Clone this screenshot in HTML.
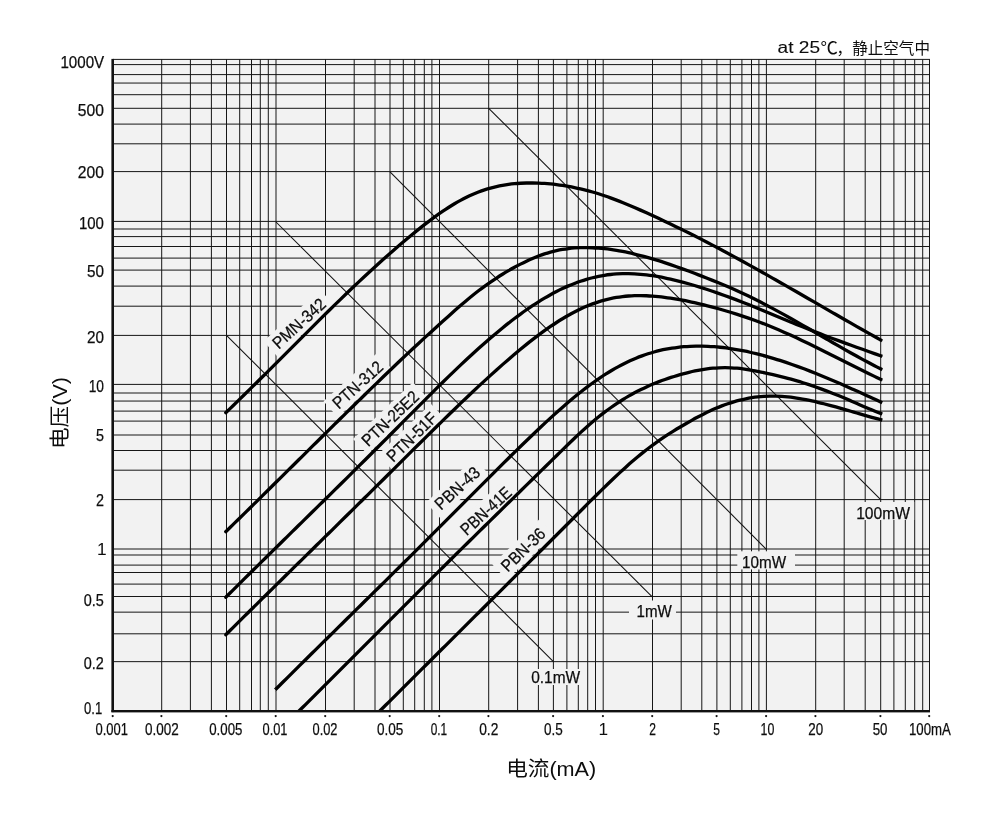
<!DOCTYPE html>
<html lang="zh-CN"><head><meta charset="utf-8"><title>电压-电流特性</title>
<style>html,body{margin:0;padding:0;background:#fff;}body{width:1000px;height:818px;overflow:hidden;}svg{display:block;}text{font-family:"Liberation Sans", "Noto Sans CJK SC", sans-serif;fill:#0d0d0d;stroke:#0d0d0d;stroke-width:0.25px;}</style></head><body>
<svg width="1000" height="818" viewBox="0 0 1000 818">
<rect x="0" y="0" width="1000" height="818" fill="#fff"/>
<rect x="113.0" y="59.4" width="816.5" height="651.6" fill="#f2f2f2"/>
<g stroke="#161616" stroke-width="1" fill="none">
<line x1="161.70" y1="59.40" x2="161.70" y2="711.00"/>
<line x1="190.40" y1="59.40" x2="190.40" y2="711.00"/>
<line x1="211.40" y1="59.40" x2="211.40" y2="711.00"/>
<line x1="226.50" y1="59.40" x2="226.50" y2="711.00"/>
<line x1="239.70" y1="59.40" x2="239.70" y2="711.00"/>
<line x1="251.50" y1="59.40" x2="251.50" y2="711.00"/>
<line x1="260.30" y1="59.40" x2="260.30" y2="711.00"/>
<line x1="268.30" y1="59.40" x2="268.30" y2="711.00"/>
<line x1="276.00" y1="59.40" x2="276.00" y2="711.00"/>
<line x1="325.50" y1="59.40" x2="325.50" y2="711.00"/>
<line x1="354.20" y1="59.40" x2="354.20" y2="711.00"/>
<line x1="375.00" y1="59.40" x2="375.00" y2="711.00"/>
<line x1="390.00" y1="59.40" x2="390.00" y2="711.00"/>
<line x1="403.30" y1="59.40" x2="403.30" y2="711.00"/>
<line x1="414.70" y1="59.40" x2="414.70" y2="711.00"/>
<line x1="424.30" y1="59.40" x2="424.30" y2="711.00"/>
<line x1="431.90" y1="59.40" x2="431.90" y2="711.00"/>
<line x1="439.50" y1="59.40" x2="439.50" y2="711.00"/>
<line x1="488.70" y1="59.40" x2="488.70" y2="711.00"/>
<line x1="517.60" y1="59.40" x2="517.60" y2="711.00"/>
<line x1="538.40" y1="59.40" x2="538.40" y2="711.00"/>
<line x1="553.40" y1="59.40" x2="553.40" y2="711.00"/>
<line x1="566.90" y1="59.40" x2="566.90" y2="711.00"/>
<line x1="578.30" y1="59.40" x2="578.30" y2="711.00"/>
<line x1="587.70" y1="59.40" x2="587.70" y2="711.00"/>
<line x1="595.50" y1="59.40" x2="595.50" y2="711.00"/>
<line x1="603.20" y1="59.40" x2="603.20" y2="711.00"/>
<line x1="652.50" y1="59.40" x2="652.50" y2="711.00"/>
<line x1="681.20" y1="59.40" x2="681.20" y2="711.00"/>
<line x1="701.80" y1="59.40" x2="701.80" y2="711.00"/>
<line x1="716.90" y1="59.40" x2="716.90" y2="711.00"/>
<line x1="730.30" y1="59.40" x2="730.30" y2="711.00"/>
<line x1="741.90" y1="59.40" x2="741.90" y2="711.00"/>
<line x1="751.50" y1="59.40" x2="751.50" y2="711.00"/>
<line x1="758.90" y1="59.40" x2="758.90" y2="711.00"/>
<line x1="766.40" y1="59.40" x2="766.40" y2="711.00"/>
<line x1="815.70" y1="59.40" x2="815.70" y2="711.00"/>
<line x1="844.20" y1="59.40" x2="844.20" y2="711.00"/>
<line x1="865.20" y1="59.40" x2="865.20" y2="711.00"/>
<line x1="880.70" y1="59.40" x2="880.70" y2="711.00"/>
<line x1="893.90" y1="59.40" x2="893.90" y2="711.00"/>
<line x1="905.30" y1="59.40" x2="905.30" y2="711.00"/>
<line x1="914.70" y1="59.40" x2="914.70" y2="711.00"/>
<line x1="922.70" y1="59.40" x2="922.70" y2="711.00"/>
<line x1="929.50" y1="59.40" x2="929.50" y2="711.00"/>
<line x1="113.00" y1="59.40" x2="930.00" y2="59.40"/>
<line x1="113.00" y1="64.60" x2="930.00" y2="64.60"/>
<line x1="113.00" y1="74.60" x2="930.00" y2="74.60"/>
<line x1="113.00" y1="83.05" x2="930.00" y2="83.05"/>
<line x1="113.00" y1="94.70" x2="930.00" y2="94.70"/>
<line x1="113.00" y1="108.30" x2="930.00" y2="108.30"/>
<line x1="113.00" y1="124.10" x2="930.00" y2="124.10"/>
<line x1="113.00" y1="143.80" x2="930.00" y2="143.80"/>
<line x1="113.00" y1="171.60" x2="930.00" y2="171.60"/>
<line x1="113.00" y1="221.40" x2="930.00" y2="221.40"/>
<line x1="113.00" y1="229.00" x2="930.00" y2="229.00"/>
<line x1="113.00" y1="236.60" x2="930.00" y2="236.60"/>
<line x1="113.00" y1="246.50" x2="930.00" y2="246.50"/>
<line x1="113.00" y1="258.10" x2="930.00" y2="258.10"/>
<line x1="113.00" y1="270.10" x2="930.00" y2="270.10"/>
<line x1="113.00" y1="286.10" x2="930.00" y2="286.10"/>
<line x1="113.00" y1="306.20" x2="930.00" y2="306.20"/>
<line x1="113.00" y1="335.40" x2="930.00" y2="335.40"/>
<line x1="113.00" y1="384.40" x2="930.00" y2="384.40"/>
<line x1="113.00" y1="393.00" x2="930.00" y2="393.00"/>
<line x1="113.00" y1="401.05" x2="930.00" y2="401.05"/>
<line x1="113.00" y1="411.10" x2="930.00" y2="411.10"/>
<line x1="113.00" y1="421.10" x2="930.00" y2="421.10"/>
<line x1="113.00" y1="435.00" x2="930.00" y2="435.00"/>
<line x1="113.00" y1="450.50" x2="930.00" y2="450.50"/>
<line x1="113.00" y1="470.20" x2="930.00" y2="470.20"/>
<line x1="113.00" y1="499.60" x2="930.00" y2="499.60"/>
<line x1="113.00" y1="549.00" x2="930.00" y2="549.00"/>
<line x1="113.00" y1="555.00" x2="930.00" y2="555.00"/>
<line x1="113.00" y1="565.10" x2="930.00" y2="565.10"/>
<line x1="113.00" y1="572.50" x2="930.00" y2="572.50"/>
<line x1="113.00" y1="584.10" x2="930.00" y2="584.10"/>
<line x1="113.00" y1="596.50" x2="930.00" y2="596.50"/>
<line x1="113.00" y1="612.15" x2="930.00" y2="612.15"/>
<line x1="113.00" y1="633.80" x2="930.00" y2="633.80"/>
<line x1="113.00" y1="661.65" x2="930.00" y2="661.65"/>
</g>
<g stroke="#111" stroke-width="1.05" fill="none">
<line x1="226.50" y1="335.40" x2="553.40" y2="661.65"/>
<line x1="276.00" y1="222.00" x2="652.50" y2="597.10"/>
<line x1="390.00" y1="171.90" x2="766.40" y2="549.30"/>
<line x1="488.70" y1="108.30" x2="880.70" y2="499.60"/>
</g>
<rect x="524.0" y="669.0" width="62.0" height="16.0" fill="#f2f2f2"/>
<rect x="629.0" y="600.5" width="47.0" height="19.0" fill="#f2f2f2"/>
<rect x="737.3" y="551.3" width="57.7" height="18.1" fill="#f2f2f2"/>
<rect x="845.6" y="502.0" width="68.6" height="18.0" fill="#f2f2f2"/>
<rect x="260.6" y="312.8" width="76.5" height="21.0" fill="#f2f2f2" transform="rotate(-42.3 298.9 323.3)"/>
<rect x="321.2" y="374.3" width="72.5" height="21.0" fill="#f2f2f2" transform="rotate(-42.0 357.5 384.8)"/>
<rect x="348.9" y="407.8" width="82.5" height="21.0" fill="#f2f2f2" transform="rotate(-43.5 390.2 418.3)"/>
<rect x="374.9" y="426.4" width="73.5" height="21.0" fill="#f2f2f2" transform="rotate(-44.0 411.6 436.9)"/>
<rect x="424.4" y="477.5" width="65.5" height="21.0" fill="#f2f2f2" transform="rotate(-42.5 457.2 488.0)"/>
<rect x="449.1" y="500.3" width="73.5" height="21.0" fill="#f2f2f2" transform="rotate(-42.5 485.9 510.8)"/>
<rect x="490.5" y="539.1" width="65.0" height="21.0" fill="#f2f2f2" transform="rotate(-44.0 523.0 549.6)"/>
<clipPath id="pc"><rect x="113" y="59" width="817" height="652.5"/></clipPath>
<g stroke="#000" stroke-width="3.3" fill="none" stroke-linecap="butt" stroke-linejoin="round" clip-path="url(#pc)">
<path d="M225.78 412.68 C225.90 412.57 225.38 413.07 226.50 411.99 C227.62 410.91 230.50 408.15 232.50 406.22 C234.50 404.29 236.50 402.36 238.50 400.41 C240.50 398.47 242.50 396.51 244.50 394.55 C246.50 392.59 248.50 390.63 250.50 388.66 C252.50 386.69 254.50 384.71 256.50 382.73 C258.50 380.75 260.50 378.77 262.50 376.78 C264.50 374.79 266.50 372.80 268.50 370.81 C270.50 368.82 272.50 366.82 274.50 364.82 C276.50 362.82 278.50 360.82 280.50 358.82 C282.50 356.82 284.50 354.82 286.50 352.82 C288.50 350.82 290.50 348.81 292.50 346.81 C294.50 344.81 296.50 342.81 298.50 340.81 C300.50 338.81 302.50 336.81 304.50 334.82 C306.50 332.82 308.50 330.83 310.50 328.84 C312.50 326.85 314.50 324.86 316.50 322.88 C318.50 320.90 320.50 318.92 322.50 316.94 C324.50 314.96 326.50 312.99 328.50 311.03 C330.50 309.07 332.50 307.11 334.50 305.16 C336.50 303.21 338.50 301.27 340.50 299.33 C342.50 297.39 344.50 295.46 346.50 293.54 C348.50 291.62 350.50 289.70 352.50 287.80 C354.50 285.90 356.50 284.00 358.50 282.12 C360.50 280.24 362.50 278.36 364.50 276.49 C366.50 274.62 368.50 272.77 370.50 270.93 C372.50 269.09 374.50 267.27 376.50 265.45 C378.50 263.63 380.50 261.82 382.50 260.03 C384.50 258.24 386.50 256.46 388.50 254.70 C390.50 252.94 392.50 251.19 394.50 249.45 C396.50 247.71 398.50 246.00 400.50 244.29 C402.50 242.58 404.50 240.89 406.50 239.22 C408.50 237.55 410.50 235.90 412.50 234.26 C414.50 232.62 416.50 231.00 418.50 229.40 C420.50 227.80 422.50 226.22 424.50 224.67 C426.50 223.12 428.50 221.58 430.50 220.08 C432.50 218.58 434.50 217.10 436.50 215.67 C438.50 214.23 440.50 212.83 442.50 211.47 C444.50 210.11 446.50 208.78 448.50 207.50 C450.50 206.22 452.50 204.97 454.50 203.78 C456.50 202.59 458.50 201.43 460.50 200.34 C462.50 199.25 464.50 198.21 466.50 197.22 C468.50 196.23 470.50 195.29 472.50 194.42 C474.50 193.55 476.50 192.74 478.50 191.98 C480.50 191.22 482.50 190.51 484.50 189.86 C486.50 189.21 488.50 188.61 490.50 188.06 C492.50 187.51 494.50 187.01 496.50 186.56 C498.50 186.11 500.50 185.71 502.50 185.35 C504.50 184.99 506.50 184.67 508.50 184.40 C510.50 184.13 512.50 183.90 514.50 183.71 C516.50 183.52 518.50 183.38 520.50 183.26 C522.50 183.14 524.50 183.06 526.50 183.02 C528.50 182.98 530.50 182.97 532.50 182.99 C534.50 183.01 536.50 183.05 538.50 183.13 C540.50 183.21 542.50 183.31 544.50 183.45 C546.50 183.58 548.50 183.75 550.50 183.94 C552.50 184.13 554.50 184.35 556.50 184.59 C558.50 184.83 560.50 185.10 562.50 185.40 C564.50 185.70 566.50 186.03 568.50 186.39 C570.50 186.74 572.50 187.12 574.50 187.53 C576.50 187.94 578.50 188.38 580.50 188.85 C582.50 189.32 584.50 189.81 586.50 190.33 C588.50 190.85 590.50 191.40 592.50 191.97 C594.50 192.54 596.50 193.15 598.50 193.78 C600.50 194.41 602.50 195.07 604.50 195.75 C606.50 196.43 608.50 197.13 610.50 197.86 C612.50 198.59 614.50 199.34 616.50 200.11 C618.50 200.88 620.50 201.66 622.50 202.47 C624.50 203.28 626.50 204.10 628.50 204.94 C630.50 205.78 632.50 206.62 634.50 207.49 C636.50 208.36 638.50 209.24 640.50 210.13 C642.50 211.02 644.50 211.91 646.50 212.82 C648.50 213.73 650.50 214.65 652.50 215.57 C654.50 216.49 656.50 217.42 658.50 218.35 C660.50 219.28 662.50 220.22 664.50 221.17 C666.50 222.12 668.50 223.07 670.50 224.03 C672.50 224.99 674.50 225.96 676.50 226.93 C678.50 227.90 680.50 228.88 682.50 229.86 C684.50 230.84 686.50 231.83 688.50 232.83 C690.50 233.83 692.50 234.83 694.50 235.84 C696.50 236.85 698.50 237.87 700.50 238.89 C702.50 239.91 704.50 240.94 706.50 241.98 C708.50 243.02 710.50 244.06 712.50 245.11 C714.50 246.16 716.50 247.22 718.50 248.28 C720.50 249.34 722.50 250.41 724.50 251.48 C726.50 252.55 728.50 253.63 730.50 254.71 C732.50 255.79 734.50 256.89 736.50 257.98 C738.50 259.07 740.50 260.17 742.50 261.27 C744.50 262.37 746.50 263.47 748.50 264.58 C750.50 265.69 752.50 266.81 754.50 267.93 C756.50 269.05 758.50 270.17 760.50 271.29 C762.50 272.41 764.50 273.54 766.50 274.67 C768.50 275.80 770.50 276.93 772.50 278.07 C774.50 279.21 776.50 280.35 778.50 281.49 C780.50 282.63 782.50 283.78 784.50 284.92 C786.50 286.06 788.50 287.20 790.50 288.35 C792.50 289.50 794.50 290.65 796.50 291.80 C798.50 292.95 800.50 294.11 802.50 295.26 C804.50 296.41 806.50 297.57 808.50 298.72 C810.50 299.88 812.50 301.04 814.50 302.19 C816.50 303.34 818.50 304.50 820.50 305.65 C822.50 306.80 824.50 307.96 826.50 309.11 C828.50 310.26 830.50 311.42 832.50 312.57 C834.50 313.72 836.50 314.88 838.50 316.03 C840.50 317.18 842.50 318.32 844.50 319.47 C846.50 320.62 848.50 321.77 850.50 322.91 C852.50 324.05 854.50 325.19 856.50 326.33 C858.50 327.47 860.50 328.61 862.50 329.74 C864.50 330.88 866.50 332.01 868.50 333.14 C870.50 334.27 872.50 335.40 874.50 336.52 C876.50 337.64 879.47 339.29 880.50 339.87 C881.53 340.45 880.42 339.83 880.70 339.98 C880.98 340.13 881.94 340.66 882.19 340.80"/>
<path d="M225.78 531.69 C225.90 531.57 225.38 532.08 226.50 530.99 C227.62 529.90 230.50 527.09 232.50 525.13 C234.50 523.17 236.50 521.22 238.50 519.26 C240.50 517.30 242.50 515.34 244.50 513.37 C246.50 511.41 248.50 509.44 250.50 507.47 C252.50 505.50 254.50 503.53 256.50 501.56 C258.50 499.59 260.50 497.62 262.50 495.65 C264.50 493.68 266.50 491.70 268.50 489.72 C270.50 487.74 272.50 485.77 274.50 483.79 C276.50 481.81 278.50 479.83 280.50 477.85 C282.50 475.87 284.50 473.89 286.50 471.91 C288.50 469.93 290.50 467.95 292.50 465.97 C294.50 463.99 296.50 462.01 298.50 460.03 C300.50 458.05 302.50 456.07 304.50 454.09 C306.50 452.11 308.50 450.13 310.50 448.15 C312.50 446.17 314.50 444.20 316.50 442.22 C318.50 440.24 320.50 438.27 322.50 436.29 C324.50 434.31 326.50 432.34 328.50 430.36 C330.50 428.38 332.50 426.41 334.50 424.44 C336.50 422.47 338.50 420.51 340.50 418.54 C342.50 416.57 344.50 414.61 346.50 412.64 C348.50 410.67 350.50 408.71 352.50 406.75 C354.50 404.79 356.50 402.83 358.50 400.88 C360.50 398.93 362.50 396.97 364.50 395.02 C366.50 393.07 368.50 391.12 370.50 389.18 C372.50 387.24 374.50 385.30 376.50 383.36 C378.50 381.42 380.50 379.48 382.50 377.55 C384.50 375.62 386.50 373.69 388.50 371.77 C390.50 369.85 392.50 367.93 394.50 366.02 C396.50 364.11 398.50 362.21 400.50 360.31 C402.50 358.41 404.50 356.52 406.50 354.64 C408.50 352.76 410.50 350.88 412.50 349.01 C414.50 347.14 416.50 345.28 418.50 343.43 C420.50 341.58 422.50 339.73 424.50 337.90 C426.50 336.07 428.50 334.25 430.50 332.43 C432.50 330.61 434.50 328.79 436.50 326.98 C438.50 325.17 440.50 323.36 442.50 321.56 C444.50 319.76 446.50 317.95 448.50 316.16 C450.50 314.37 452.50 312.58 454.50 310.82 C456.50 309.06 458.50 307.30 460.50 305.58 C462.50 303.86 464.50 302.15 466.50 300.48 C468.50 298.81 470.50 297.15 472.50 295.54 C474.50 293.93 476.50 292.35 478.50 290.81 C480.50 289.27 482.50 287.76 484.50 286.30 C486.50 284.84 488.50 283.42 490.50 282.04 C492.50 280.66 494.50 279.32 496.50 278.02 C498.50 276.72 500.50 275.45 502.50 274.22 C504.50 272.99 506.50 271.80 508.50 270.64 C510.50 269.48 512.50 268.36 514.50 267.28 C516.50 266.19 518.50 265.14 520.50 264.13 C522.50 263.12 524.50 262.14 526.50 261.20 C528.50 260.26 530.50 259.36 532.50 258.50 C534.50 257.64 536.50 256.83 538.50 256.07 C540.50 255.31 542.50 254.58 544.50 253.92 C546.50 253.25 548.50 252.64 550.50 252.08 C552.50 251.52 554.50 251.02 556.50 250.57 C558.50 250.12 560.50 249.73 562.50 249.39 C564.50 249.05 566.50 248.76 568.50 248.52 C570.50 248.28 572.50 248.09 574.50 247.94 C576.50 247.79 578.50 247.70 580.50 247.64 C582.50 247.58 584.50 247.57 586.50 247.59 C588.50 247.61 590.50 247.67 592.50 247.76 C594.50 247.85 596.50 247.99 598.50 248.15 C600.50 248.31 602.50 248.51 604.50 248.73 C606.50 248.95 608.50 249.20 610.50 249.48 C612.50 249.76 614.50 250.07 616.50 250.40 C618.50 250.73 620.50 251.10 622.50 251.48 C624.50 251.86 626.50 252.27 628.50 252.70 C630.50 253.13 632.50 253.59 634.50 254.06 C636.50 254.53 638.50 255.03 640.50 255.54 C642.50 256.06 644.50 256.59 646.50 257.15 C648.50 257.71 650.50 258.29 652.50 258.88 C654.50 259.47 656.50 260.08 658.50 260.70 C660.50 261.32 662.50 261.97 664.50 262.62 C666.50 263.27 668.50 263.95 670.50 264.63 C672.50 265.31 674.50 266.00 676.50 266.71 C678.50 267.41 680.50 268.13 682.50 268.86 C684.50 269.59 686.50 270.32 688.50 271.07 C690.50 271.81 692.50 272.57 694.50 273.33 C696.50 274.09 698.50 274.87 700.50 275.64 C702.50 276.41 704.50 277.19 706.50 277.98 C708.50 278.77 710.50 279.56 712.50 280.36 C714.50 281.16 716.50 281.97 718.50 282.79 C720.50 283.61 722.50 284.44 724.50 285.28 C726.50 286.12 728.50 286.98 730.50 287.85 C732.50 288.72 734.50 289.60 736.50 290.50 C738.50 291.40 740.50 292.32 742.50 293.25 C744.50 294.18 746.50 295.13 748.50 296.10 C750.50 297.07 752.50 298.05 754.50 299.04 C756.50 300.03 758.50 301.04 760.50 302.06 C762.50 303.08 764.50 304.12 766.50 305.17 C768.50 306.22 770.50 307.28 772.50 308.35 C774.50 309.42 776.50 310.50 778.50 311.59 C780.50 312.68 782.50 313.78 784.50 314.89 C786.50 316.00 788.50 317.12 790.50 318.24 C792.50 319.37 794.50 320.50 796.50 321.64 C798.50 322.78 800.50 323.92 802.50 325.07 C804.50 326.22 806.50 327.37 808.50 328.53 C810.50 329.69 812.50 330.85 814.50 332.01 C816.50 333.17 818.50 334.33 820.50 335.49 C822.50 336.65 824.50 337.81 826.50 338.97 C828.50 340.13 830.50 341.30 832.50 342.45 C834.50 343.60 836.50 344.75 838.50 345.90 C840.50 347.05 842.50 348.19 844.50 349.33 C846.50 350.47 848.50 351.60 850.50 352.72 C852.50 353.84 854.50 354.95 856.50 356.06 C858.50 357.17 860.50 358.27 862.50 359.35 C864.50 360.44 866.50 361.51 868.50 362.57 C870.50 363.63 872.50 364.69 874.50 365.73 C876.50 366.77 879.47 368.27 880.50 368.80 C881.53 369.33 880.41 368.76 880.70 368.90 C880.99 369.04 881.97 369.53 882.22 369.66"/>
<path d="M225.79 597.20 C225.91 597.09 225.38 597.61 226.50 596.50 C227.62 595.39 230.50 592.53 232.50 590.55 C234.50 588.57 236.50 586.58 238.50 584.60 C240.50 582.62 242.50 580.64 244.50 578.66 C246.50 576.68 248.50 574.71 250.50 572.74 C252.50 570.77 254.50 568.79 256.50 566.82 C258.50 564.85 260.50 562.88 262.50 560.91 C264.50 558.94 266.50 556.97 268.50 555.00 C270.50 553.03 272.50 551.07 274.50 549.10 C276.50 547.13 278.50 545.17 280.50 543.21 C282.50 541.25 284.50 539.28 286.50 537.32 C288.50 535.36 290.50 533.39 292.50 531.43 C294.50 529.47 296.50 527.50 298.50 525.54 C300.50 523.58 302.50 521.61 304.50 519.65 C306.50 517.69 308.50 515.73 310.50 513.76 C312.50 511.80 314.50 509.83 316.50 507.86 C318.50 505.89 320.50 503.93 322.50 501.96 C324.50 499.99 326.50 498.03 328.50 496.06 C330.50 494.09 332.50 492.12 334.50 490.15 C336.50 488.18 338.50 486.21 340.50 484.24 C342.50 482.27 344.50 480.29 346.50 478.31 C348.50 476.33 350.50 474.36 352.50 472.38 C354.50 470.40 356.50 468.42 358.50 466.44 C360.50 464.46 362.50 462.47 364.50 460.48 C366.50 458.49 368.50 456.50 370.50 454.51 C372.50 452.52 374.50 450.52 376.50 448.53 C378.50 446.53 380.50 444.54 382.50 442.54 C384.50 440.54 386.50 438.53 388.50 436.52 C390.50 434.51 392.50 432.50 394.50 430.49 C396.50 428.48 398.50 426.46 400.50 424.45 C402.50 422.44 404.50 420.41 406.50 418.40 C408.50 416.38 410.50 414.37 412.50 412.36 C414.50 410.35 416.50 408.34 418.50 406.33 C420.50 404.32 422.50 402.32 424.50 400.32 C426.50 398.32 428.50 396.33 430.50 394.34 C432.50 392.35 434.50 390.36 436.50 388.39 C438.50 386.42 440.50 384.46 442.50 382.50 C444.50 380.54 446.50 378.59 448.50 376.65 C450.50 374.71 452.50 372.79 454.50 370.88 C456.50 368.97 458.50 367.06 460.50 365.17 C462.50 363.28 464.50 361.40 466.50 359.54 C468.50 357.68 470.50 355.83 472.50 354.00 C474.50 352.17 476.50 350.36 478.50 348.56 C480.50 346.76 482.50 344.99 484.50 343.23 C486.50 341.47 488.50 339.73 490.50 338.01 C492.50 336.29 494.50 334.60 496.50 332.92 C498.50 331.25 500.50 329.59 502.50 327.96 C504.50 326.33 506.50 324.73 508.50 323.16 C510.50 321.59 512.50 320.04 514.50 318.52 C516.50 317.00 518.50 315.51 520.50 314.05 C522.50 312.59 524.50 311.16 526.50 309.77 C528.50 308.38 530.50 307.01 532.50 305.68 C534.50 304.35 536.50 303.06 538.50 301.80 C540.50 300.54 542.50 299.32 544.50 298.14 C546.50 296.96 548.50 295.81 550.50 294.70 C552.50 293.59 554.50 292.53 556.50 291.51 C558.50 290.49 560.50 289.50 562.50 288.56 C564.50 287.62 566.50 286.72 568.50 285.87 C570.50 285.02 572.50 284.21 574.50 283.44 C576.50 282.67 578.50 281.95 580.50 281.27 C582.50 280.59 584.50 279.95 586.50 279.36 C588.50 278.77 590.50 278.23 592.50 277.73 C594.50 277.23 596.50 276.78 598.50 276.37 C600.50 275.96 602.50 275.60 604.50 275.29 C606.50 274.98 608.50 274.72 610.50 274.50 C612.50 274.28 614.50 274.11 616.50 273.97 C618.50 273.84 620.50 273.74 622.50 273.69 C624.50 273.64 626.50 273.63 628.50 273.66 C630.50 273.69 632.50 273.76 634.50 273.86 C636.50 273.96 638.50 274.10 640.50 274.27 C642.50 274.44 644.50 274.65 646.50 274.89 C648.50 275.13 650.50 275.39 652.50 275.69 C654.50 275.99 656.50 276.31 658.50 276.67 C660.50 277.03 662.50 277.41 664.50 277.82 C666.50 278.23 668.50 278.66 670.50 279.11 C672.50 279.56 674.50 280.04 676.50 280.54 C678.50 281.04 680.50 281.56 682.50 282.10 C684.50 282.64 686.50 283.19 688.50 283.76 C690.50 284.33 692.50 284.92 694.50 285.52 C696.50 286.12 698.50 286.74 700.50 287.37 C702.50 288.00 704.50 288.63 706.50 289.28 C708.50 289.93 710.50 290.60 712.50 291.27 C714.50 291.94 716.50 292.62 718.50 293.32 C720.50 294.01 722.50 294.72 724.50 295.44 C726.50 296.16 728.50 296.89 730.50 297.63 C732.50 298.37 734.50 299.12 736.50 299.88 C738.50 300.64 740.50 301.42 742.50 302.20 C744.50 302.98 746.50 303.77 748.50 304.57 C750.50 305.37 752.50 306.18 754.50 307.00 C756.50 307.82 758.50 308.64 760.50 309.47 C762.50 310.30 764.50 311.13 766.50 311.96 C768.50 312.79 770.50 313.62 772.50 314.46 C774.50 315.30 776.50 316.14 778.50 316.98 C780.50 317.82 782.50 318.65 784.50 319.48 C786.50 320.31 788.50 321.14 790.50 321.96 C792.50 322.78 794.50 323.61 796.50 324.42 C798.50 325.23 800.50 326.04 802.50 326.84 C804.50 327.64 806.50 328.44 808.50 329.23 C810.50 330.02 812.50 330.80 814.50 331.58 C816.50 332.36 818.50 333.13 820.50 333.90 C822.50 334.67 824.50 335.42 826.50 336.18 C828.50 336.94 830.50 337.69 832.50 338.44 C834.50 339.19 836.50 339.93 838.50 340.67 C840.50 341.41 842.50 342.13 844.50 342.86 C846.50 343.59 848.50 344.31 850.50 345.03 C852.50 345.75 854.50 346.47 856.50 347.18 C858.50 347.89 860.50 348.61 862.50 349.32 C864.50 350.03 866.50 350.74 868.50 351.45 C870.50 352.16 872.50 352.87 874.50 353.58 C876.50 354.29 879.47 355.35 880.50 355.72 C881.53 356.09 880.40 355.68 880.70 355.79 C881.00 355.90 882.04 356.26 882.30 356.35"/>
<path d="M225.79 634.70 C225.91 634.59 225.38 635.11 226.50 634.00 C227.62 632.89 230.50 630.04 232.50 628.06 C234.50 626.08 236.50 624.10 238.50 622.12 C240.50 620.14 242.50 618.17 244.50 616.19 C246.50 614.21 248.50 612.24 250.50 610.26 C252.50 608.28 254.50 606.31 256.50 604.34 C258.50 602.37 260.50 600.40 262.50 598.43 C264.50 596.46 266.50 594.49 268.50 592.52 C270.50 590.55 272.50 588.58 274.50 586.61 C276.50 584.64 278.50 582.67 280.50 580.70 C282.50 578.73 284.50 576.77 286.50 574.80 C288.50 572.83 290.50 570.87 292.50 568.90 C294.50 566.93 296.50 564.97 298.50 563.00 C300.50 561.03 302.50 559.07 304.50 557.10 C306.50 555.13 308.50 553.17 310.50 551.20 C312.50 549.23 314.50 547.27 316.50 545.30 C318.50 543.33 320.50 541.37 322.50 539.40 C324.50 537.43 326.50 535.47 328.50 533.50 C330.50 531.53 332.50 529.57 334.50 527.60 C336.50 525.63 338.50 523.66 340.50 521.69 C342.50 519.72 344.50 517.75 346.50 515.78 C348.50 513.81 350.50 511.84 352.50 509.87 C354.50 507.90 356.50 505.92 358.50 503.95 C360.50 501.98 362.50 500.00 364.50 498.03 C366.50 496.05 368.50 494.08 370.50 492.10 C372.50 490.12 374.50 488.15 376.50 486.17 C378.50 484.19 380.50 482.21 382.50 480.23 C384.50 478.25 386.50 476.26 388.50 474.28 C390.50 472.29 392.50 470.31 394.50 468.32 C396.50 466.33 398.50 464.35 400.50 462.36 C402.50 460.37 404.50 458.39 406.50 456.40 C408.50 454.41 410.50 452.43 412.50 450.44 C414.50 448.45 416.50 446.47 418.50 444.49 C420.50 442.51 422.50 440.53 424.50 438.55 C426.50 436.57 428.50 434.60 430.50 432.63 C432.50 430.66 434.50 428.69 436.50 426.73 C438.50 424.77 440.50 422.81 442.50 420.86 C444.50 418.91 446.50 416.95 448.50 415.01 C450.50 413.07 452.50 411.13 454.50 409.20 C456.50 407.27 458.50 405.35 460.50 403.43 C462.50 401.51 464.50 399.61 466.50 397.71 C468.50 395.81 470.50 393.91 472.50 392.03 C474.50 390.15 476.50 388.27 478.50 386.41 C480.50 384.55 482.50 382.69 484.50 380.85 C486.50 379.01 488.50 377.18 490.50 375.36 C492.50 373.54 494.50 371.74 496.50 369.95 C498.50 368.16 500.50 366.38 502.50 364.62 C504.50 362.86 506.50 361.12 508.50 359.40 C510.50 357.67 512.50 355.96 514.50 354.27 C516.50 352.58 518.50 350.92 520.50 349.27 C522.50 347.62 524.50 345.99 526.50 344.38 C528.50 342.77 530.50 341.19 532.50 339.64 C534.50 338.09 536.50 336.56 538.50 335.07 C540.50 333.57 542.50 332.10 544.50 330.67 C546.50 329.24 548.50 327.83 550.50 326.47 C552.50 325.11 554.50 323.78 556.50 322.49 C558.50 321.20 560.50 319.95 562.50 318.74 C564.50 317.53 566.50 316.37 568.50 315.24 C570.50 314.12 572.50 313.03 574.50 311.99 C576.50 310.95 578.50 309.96 580.50 309.01 C582.50 308.06 584.50 307.16 586.50 306.31 C588.50 305.46 590.50 304.66 592.50 303.91 C594.50 303.16 596.50 302.45 598.50 301.81 C600.50 301.17 602.50 300.58 604.50 300.04 C606.50 299.50 608.50 299.02 610.50 298.59 C612.50 298.16 614.50 297.77 616.50 297.44 C618.50 297.11 620.50 296.83 622.50 296.59 C624.50 296.35 626.50 296.16 628.50 296.01 C630.50 295.86 632.50 295.75 634.50 295.68 C636.50 295.61 638.50 295.59 640.50 295.60 C642.50 295.61 644.50 295.65 646.50 295.73 C648.50 295.81 650.50 295.93 652.50 296.07 C654.50 296.21 656.50 296.39 658.50 296.59 C660.50 296.79 662.50 297.03 664.50 297.29 C666.50 297.55 668.50 297.83 670.50 298.13 C672.50 298.43 674.50 298.76 676.50 299.11 C678.50 299.46 680.50 299.82 682.50 300.20 C684.50 300.58 686.50 300.98 688.50 301.40 C690.50 301.81 692.50 302.24 694.50 302.69 C696.50 303.14 698.50 303.60 700.50 304.08 C702.50 304.56 704.50 305.04 706.50 305.55 C708.50 306.06 710.50 306.58 712.50 307.12 C714.50 307.66 716.50 308.21 718.50 308.77 C720.50 309.33 722.50 309.90 724.50 310.49 C726.50 311.08 728.50 311.68 730.50 312.29 C732.50 312.90 734.50 313.53 736.50 314.17 C738.50 314.81 740.50 315.46 742.50 316.12 C744.50 316.78 746.50 317.46 748.50 318.15 C750.50 318.84 752.50 319.55 754.50 320.28 C756.50 321.00 758.50 321.74 760.50 322.50 C762.50 323.26 764.50 324.04 766.50 324.83 C768.50 325.62 770.50 326.44 772.50 327.26 C774.50 328.08 776.50 328.92 778.50 329.78 C780.50 330.64 782.50 331.51 784.50 332.40 C786.50 333.29 788.50 334.19 790.50 335.10 C792.50 336.01 794.50 336.94 796.50 337.87 C798.50 338.81 800.50 339.76 802.50 340.71 C804.50 341.66 806.50 342.62 808.50 343.59 C810.50 344.56 812.50 345.54 814.50 346.53 C816.50 347.51 818.50 348.51 820.50 349.50 C822.50 350.49 824.50 351.49 826.50 352.49 C828.50 353.49 830.50 354.50 832.50 355.51 C834.50 356.52 836.50 357.52 838.50 358.53 C840.50 359.54 842.50 360.55 844.50 361.56 C846.50 362.57 848.50 363.58 850.50 364.58 C852.50 365.58 854.50 366.57 856.50 367.57 C858.50 368.56 860.50 369.56 862.50 370.55 C864.50 371.54 866.50 372.51 868.50 373.48 C870.50 374.45 872.50 375.42 874.50 376.38 C876.50 377.34 879.47 378.73 880.50 379.22 C881.53 379.71 880.41 379.18 880.70 379.31 C880.99 379.44 881.99 379.89 882.25 380.01"/>
<path d="M275.29 689.72 C275.41 689.60 274.88 690.12 276.00 689.01 C277.12 687.90 280.00 685.02 282.00 683.03 C284.00 681.04 286.00 679.05 288.00 677.06 C290.00 675.07 292.00 673.09 294.00 671.11 C296.00 669.13 298.00 667.14 300.00 665.16 C302.00 663.18 304.00 661.20 306.00 659.22 C308.00 657.24 310.00 655.27 312.00 653.29 C314.00 651.31 316.00 649.34 318.00 647.36 C320.00 645.38 322.00 643.41 324.00 641.44 C326.00 639.47 328.00 637.49 330.00 635.52 C332.00 633.55 334.00 631.58 336.00 629.61 C338.00 627.64 340.00 625.67 342.00 623.70 C344.00 621.73 346.00 619.75 348.00 617.78 C350.00 615.81 352.00 613.84 354.00 611.87 C356.00 609.90 358.00 607.93 360.00 605.96 C362.00 603.99 364.00 602.02 366.00 600.05 C368.00 598.08 370.00 596.11 372.00 594.14 C374.00 592.17 376.00 590.19 378.00 588.22 C380.00 586.25 382.00 584.27 384.00 582.30 C386.00 580.32 388.00 578.35 390.00 576.37 C392.00 574.39 394.00 572.42 396.00 570.44 C398.00 568.46 400.00 566.49 402.00 564.51 C404.00 562.53 406.00 560.54 408.00 558.56 C410.00 556.58 412.00 554.60 414.00 552.61 C416.00 550.62 418.00 548.63 420.00 546.64 C422.00 544.65 424.00 542.66 426.00 540.67 C428.00 538.68 430.00 536.69 432.00 534.69 C434.00 532.69 436.00 530.69 438.00 528.69 C440.00 526.69 442.00 524.68 444.00 522.68 C446.00 520.68 448.00 518.68 450.00 516.67 C452.00 514.66 454.00 512.65 456.00 510.64 C458.00 508.63 460.00 506.62 462.00 504.61 C464.00 502.60 466.00 500.60 468.00 498.59 C470.00 496.58 472.00 494.57 474.00 492.57 C476.00 490.56 478.00 488.56 480.00 486.56 C482.00 484.56 484.00 482.56 486.00 480.56 C488.00 478.56 490.00 476.56 492.00 474.57 C494.00 472.58 496.00 470.59 498.00 468.61 C500.00 466.63 502.00 464.65 504.00 462.67 C506.00 460.69 508.00 458.73 510.00 456.76 C512.00 454.79 514.00 452.83 516.00 450.88 C518.00 448.93 520.00 446.98 522.00 445.04 C524.00 443.10 526.00 441.17 528.00 439.24 C530.00 437.31 532.00 435.39 534.00 433.48 C536.00 431.57 538.00 429.67 540.00 427.78 C542.00 425.89 544.00 424.01 546.00 422.15 C548.00 420.29 550.00 418.44 552.00 416.61 C554.00 414.78 556.00 412.98 558.00 411.19 C560.00 409.40 562.00 407.63 564.00 405.89 C566.00 404.15 568.00 402.44 570.00 400.75 C572.00 399.06 574.00 397.39 576.00 395.76 C578.00 394.13 580.00 392.52 582.00 390.96 C584.00 389.39 586.00 387.87 588.00 386.37 C590.00 384.88 592.00 383.41 594.00 381.99 C596.00 380.57 598.00 379.18 600.00 377.84 C602.00 376.50 604.00 375.19 606.00 373.92 C608.00 372.66 610.00 371.43 612.00 370.25 C614.00 369.07 616.00 367.92 618.00 366.83 C620.00 365.74 622.00 364.69 624.00 363.68 C626.00 362.67 628.00 361.71 630.00 360.79 C632.00 359.87 634.00 359.00 636.00 358.18 C638.00 357.36 640.00 356.58 642.00 355.85 C644.00 355.12 646.00 354.43 648.00 353.79 C650.00 353.15 652.00 352.56 654.00 352.00 C656.00 351.44 658.00 350.93 660.00 350.46 C662.00 349.99 664.00 349.56 666.00 349.17 C668.00 348.78 670.00 348.43 672.00 348.12 C674.00 347.81 676.00 347.53 678.00 347.29 C680.00 347.05 682.00 346.85 684.00 346.69 C686.00 346.53 688.00 346.40 690.00 346.31 C692.00 346.22 694.00 346.15 696.00 346.12 C698.00 346.09 700.00 346.10 702.00 346.13 C704.00 346.16 706.00 346.23 708.00 346.33 C710.00 346.43 712.00 346.56 714.00 346.71 C716.00 346.86 718.00 347.04 720.00 347.25 C722.00 347.46 724.00 347.70 726.00 347.96 C728.00 348.22 730.00 348.51 732.00 348.82 C734.00 349.13 736.00 349.47 738.00 349.83 C740.00 350.19 742.00 350.57 744.00 350.97 C746.00 351.37 748.00 351.80 750.00 352.25 C752.00 352.70 754.00 353.16 756.00 353.65 C758.00 354.14 760.00 354.65 762.00 355.18 C764.00 355.71 766.00 356.26 768.00 356.83 C770.00 357.40 772.00 357.98 774.00 358.58 C776.00 359.18 778.00 359.80 780.00 360.44 C782.00 361.08 784.00 361.73 786.00 362.40 C788.00 363.07 790.00 363.75 792.00 364.45 C794.00 365.15 796.00 365.86 798.00 366.59 C800.00 367.32 802.00 368.06 804.00 368.82 C806.00 369.57 808.00 370.34 810.00 371.12 C812.00 371.90 814.00 372.69 816.00 373.49 C818.00 374.29 820.00 375.10 822.00 375.92 C824.00 376.74 826.00 377.58 828.00 378.42 C830.00 379.26 832.00 380.11 834.00 380.97 C836.00 381.83 838.00 382.70 840.00 383.57 C842.00 384.44 844.00 385.32 846.00 386.21 C848.00 387.10 850.00 387.99 852.00 388.89 C854.00 389.79 856.00 390.68 858.00 391.59 C860.00 392.50 862.00 393.41 864.00 394.33 C866.00 395.25 868.00 396.16 870.00 397.08 C872.00 398.00 874.22 399.03 876.00 399.85 C877.78 400.68 879.66 401.55 880.70 402.03 C881.74 402.51 881.99 402.63 882.24 402.75"/>
<path d="M299.00 710.99 C299.00 710.99 298.00 711.98 299.00 710.99 C300.00 710.00 303.00 707.03 305.00 705.05 C307.00 703.07 309.00 701.08 311.00 699.09 C313.00 697.10 315.00 695.12 317.00 693.13 C319.00 691.14 321.00 689.15 323.00 687.16 C325.00 685.17 327.00 683.16 329.00 681.17 C331.00 679.17 333.00 677.19 335.00 675.19 C337.00 673.19 339.00 671.19 341.00 669.19 C343.00 667.19 345.00 665.19 347.00 663.19 C349.00 661.19 351.00 659.19 353.00 657.19 C355.00 655.19 357.00 653.18 359.00 651.18 C361.00 649.18 363.00 647.17 365.00 645.17 C367.00 643.17 369.00 641.16 371.00 639.16 C373.00 637.15 375.00 635.14 377.00 633.14 C379.00 631.13 381.00 629.13 383.00 627.13 C385.00 625.13 387.00 623.12 389.00 621.12 C391.00 619.12 393.00 617.11 395.00 615.11 C397.00 613.11 399.00 611.10 401.00 609.10 C403.00 607.10 405.00 605.10 407.00 603.10 C409.00 601.10 411.00 599.10 413.00 597.10 C415.00 595.10 417.00 593.11 419.00 591.11 C421.00 589.11 423.00 587.11 425.00 585.12 C427.00 583.13 429.00 581.14 431.00 579.15 C433.00 577.16 435.00 575.16 437.00 573.17 C439.00 571.18 441.00 569.20 443.00 567.21 C445.00 565.23 447.00 563.24 449.00 561.26 C451.00 559.28 453.00 557.30 455.00 555.32 C457.00 553.34 459.00 551.36 461.00 549.39 C463.00 547.42 465.00 545.45 467.00 543.48 C469.00 541.51 471.00 539.54 473.00 537.57 C475.00 535.60 477.00 533.63 479.00 531.67 C481.00 529.70 483.00 527.74 485.00 525.78 C487.00 523.82 489.00 521.85 491.00 519.89 C493.00 517.93 495.00 515.97 497.00 514.01 C499.00 512.05 501.00 510.10 503.00 508.14 C505.00 506.18 507.00 504.22 509.00 502.26 C511.00 500.30 513.00 498.35 515.00 496.39 C517.00 494.43 519.00 492.48 521.00 490.52 C523.00 488.56 525.00 486.60 527.00 484.64 C529.00 482.68 531.00 480.72 533.00 478.76 C535.00 476.80 537.00 474.84 539.00 472.88 C541.00 470.92 543.00 468.95 545.00 466.99 C547.00 465.03 549.00 463.07 551.00 461.10 C553.00 459.13 555.00 457.16 557.00 455.20 C559.00 453.24 561.00 451.26 563.00 449.31 C565.00 447.36 567.00 445.42 569.00 443.49 C571.00 441.56 573.00 439.64 575.00 437.75 C577.00 435.86 579.00 434.00 581.00 432.16 C583.00 430.33 585.00 428.51 587.00 426.74 C589.00 424.97 591.00 423.22 593.00 421.53 C595.00 419.84 597.00 418.18 599.00 416.58 C601.00 414.98 603.00 413.42 605.00 411.91 C607.00 410.40 609.00 408.92 611.00 407.50 C613.00 406.08 615.00 404.70 617.00 403.37 C619.00 402.04 621.00 400.75 623.00 399.50 C625.00 398.25 627.00 397.06 629.00 395.90 C631.00 394.74 633.00 393.63 635.00 392.56 C637.00 391.49 639.00 390.47 641.00 389.48 C643.00 388.50 645.00 387.56 647.00 386.65 C649.00 385.74 651.00 384.87 653.00 384.04 C655.00 383.21 657.00 382.41 659.00 381.65 C661.00 380.88 663.00 380.15 665.00 379.45 C667.00 378.75 669.00 378.07 671.00 377.43 C673.00 376.79 675.00 376.17 677.00 375.58 C679.00 374.99 681.00 374.42 683.00 373.88 C685.00 373.34 687.00 372.82 689.00 372.34 C691.00 371.86 693.00 371.40 695.00 370.98 C697.00 370.56 699.00 370.17 701.00 369.82 C703.00 369.47 705.00 369.16 707.00 368.89 C709.00 368.62 711.00 368.38 713.00 368.20 C715.00 368.01 717.00 367.88 719.00 367.78 C721.00 367.68 723.00 367.63 725.00 367.63 C727.00 367.63 729.00 367.68 731.00 367.78 C733.00 367.88 735.00 368.03 737.00 368.22 C739.00 368.41 741.00 368.65 743.00 368.92 C745.00 369.19 747.00 369.49 749.00 369.82 C751.00 370.15 753.00 370.51 755.00 370.88 C757.00 371.25 759.00 371.65 761.00 372.05 C763.00 372.45 765.00 372.87 767.00 373.30 C769.00 373.73 771.00 374.17 773.00 374.63 C775.00 375.09 777.00 375.56 779.00 376.05 C781.00 376.54 783.00 377.04 785.00 377.56 C787.00 378.08 789.00 378.63 791.00 379.19 C793.00 379.75 795.00 380.33 797.00 380.92 C799.00 381.51 801.00 382.13 803.00 382.76 C805.00 383.39 807.00 384.03 809.00 384.69 C811.00 385.35 813.00 386.03 815.00 386.73 C817.00 387.43 819.00 388.14 821.00 388.87 C823.00 389.60 825.00 390.34 827.00 391.10 C829.00 391.86 831.00 392.63 833.00 393.42 C835.00 394.21 837.00 395.01 839.00 395.83 C841.00 396.65 843.00 397.49 845.00 398.34 C847.00 399.19 849.00 400.05 851.00 400.91 C853.00 401.78 855.00 402.66 857.00 403.53 C859.00 404.40 861.00 405.28 863.00 406.14 C865.00 407.00 867.00 407.86 869.00 408.70 C871.00 409.54 873.05 410.39 875.00 411.17 C876.95 411.95 879.49 412.93 880.70 413.40 C881.91 413.87 882.02 413.92 882.28 414.02"/>
<path d="M379.80 711.00 C379.80 711.00 378.80 712.00 379.80 711.00 C380.80 710.00 383.80 707.02 385.80 705.03 C387.80 703.04 389.80 701.04 391.80 699.05 C393.80 697.06 395.80 695.07 397.80 693.08 C399.80 691.09 401.80 689.09 403.80 687.10 C405.80 685.11 407.80 683.12 409.80 681.13 C411.80 679.14 413.80 677.15 415.80 675.16 C417.80 673.17 419.80 671.18 421.80 669.19 C423.80 667.20 425.80 665.21 427.80 663.22 C429.80 661.23 431.80 659.24 433.80 657.25 C435.80 655.26 437.80 653.26 439.80 651.27 C441.80 649.28 443.80 647.29 445.80 645.30 C447.80 643.31 449.80 641.32 451.80 639.33 C453.80 637.34 455.80 635.35 457.80 633.36 C459.80 631.37 461.80 629.38 463.80 627.39 C465.80 625.40 467.80 623.41 469.80 621.42 C471.80 619.43 473.80 617.44 475.80 615.45 C477.80 613.46 479.80 611.47 481.80 609.48 C483.80 607.49 485.80 605.50 487.80 603.51 C489.80 601.52 491.80 599.52 493.80 597.53 C495.80 595.54 497.80 593.55 499.80 591.56 C501.80 589.57 503.80 587.58 505.80 585.59 C507.80 583.60 509.80 581.61 511.80 579.62 C513.80 577.63 515.80 575.63 517.80 573.64 C519.80 571.65 521.80 569.66 523.80 567.67 C525.80 565.68 527.80 563.68 529.80 561.69 C531.80 559.70 533.80 557.70 535.80 555.71 C537.80 553.72 539.80 551.73 541.80 549.73 C543.80 547.74 545.80 545.74 547.80 543.74 C549.80 541.74 551.80 539.75 553.80 537.75 C555.80 535.75 557.80 533.75 559.80 531.75 C561.80 529.75 563.80 527.75 565.80 525.75 C567.80 523.75 569.80 521.75 571.80 519.74 C573.80 517.74 575.80 515.73 577.80 513.72 C579.80 511.72 581.80 509.71 583.80 507.71 C585.80 505.71 587.80 503.70 589.80 501.70 C591.80 499.70 593.80 497.71 595.80 495.73 C597.80 493.75 599.80 491.77 601.80 489.81 C603.80 487.85 605.80 485.91 607.80 483.98 C609.80 482.05 611.80 480.14 613.80 478.25 C615.80 476.36 617.80 474.49 619.80 472.64 C621.80 470.79 623.80 468.97 625.80 467.17 C627.80 465.38 629.80 463.60 631.80 461.87 C633.80 460.14 635.80 458.44 637.80 456.77 C639.80 455.10 641.80 453.46 643.80 451.87 C645.80 450.28 647.80 448.72 649.80 447.21 C651.80 445.70 653.80 444.23 655.80 442.80 C657.80 441.37 659.80 439.98 661.80 438.63 C663.80 437.28 665.80 435.97 667.80 434.68 C669.80 433.39 671.80 432.14 673.80 430.90 C675.80 429.66 677.80 428.45 679.80 427.26 C681.80 426.07 683.80 424.90 685.80 423.74 C687.80 422.58 689.80 421.44 691.80 420.32 C693.80 419.20 695.80 418.11 697.80 417.05 C699.80 415.99 701.80 414.95 703.80 413.95 C705.80 412.95 707.80 411.97 709.80 411.04 C711.80 410.11 713.80 409.21 715.80 408.35 C717.80 407.50 719.80 406.68 721.80 405.91 C723.80 405.14 725.80 404.41 727.80 403.72 C729.80 403.04 731.80 402.40 733.80 401.80 C735.80 401.20 737.80 400.65 739.80 400.14 C741.80 399.63 743.80 399.17 745.80 398.76 C747.80 398.35 749.80 397.99 751.80 397.67 C753.80 397.35 755.80 397.08 757.80 396.86 C759.80 396.64 761.80 396.48 763.80 396.36 C765.80 396.24 767.80 396.16 769.80 396.13 C771.80 396.10 773.80 396.12 775.80 396.17 C777.80 396.23 779.80 396.33 781.80 396.46 C783.80 396.59 785.80 396.77 787.80 396.97 C789.80 397.18 791.80 397.42 793.80 397.69 C795.80 397.96 797.80 398.27 799.80 398.60 C801.80 398.93 803.80 399.30 805.80 399.68 C807.80 400.06 809.80 400.48 811.80 400.91 C813.80 401.34 815.80 401.80 817.80 402.27 C819.80 402.74 821.80 403.23 823.80 403.74 C825.80 404.25 827.80 404.77 829.80 405.31 C831.80 405.85 833.80 406.39 835.80 406.95 C837.80 407.51 839.80 408.08 841.80 408.65 C843.80 409.22 845.80 409.80 847.80 410.38 C849.80 410.96 851.80 411.56 853.80 412.14 C855.80 412.72 857.80 413.31 859.80 413.89 C861.80 414.47 863.80 415.05 865.80 415.62 C867.80 416.19 869.80 416.76 871.80 417.31 C873.80 417.86 876.32 418.54 877.80 418.94 C879.28 419.34 879.94 419.50 880.70 419.70 C881.46 419.90 882.07 420.06 882.34 420.13"/>
</g>
<rect x="111.4" y="58.9" width="2.6" height="653.2" fill="#111"/>
<rect x="111.4" y="710.0" width="818.6" height="2.4" fill="#111"/>
<g fill="#111">
<circle cx="112.70" cy="716.1" r="1.1"/>
<circle cx="161.40" cy="716.1" r="1.1"/>
<circle cx="226.20" cy="716.1" r="1.1"/>
<circle cx="275.70" cy="716.1" r="1.1"/>
<circle cx="325.20" cy="716.1" r="1.1"/>
<circle cx="389.70" cy="716.1" r="1.1"/>
<circle cx="439.20" cy="716.1" r="1.1"/>
<circle cx="488.40" cy="716.1" r="1.1"/>
<circle cx="553.10" cy="716.1" r="1.1"/>
<circle cx="602.90" cy="716.1" r="1.1"/>
<circle cx="652.20" cy="716.1" r="1.1"/>
<circle cx="716.60" cy="716.1" r="1.1"/>
<circle cx="766.10" cy="716.1" r="1.1"/>
<circle cx="815.40" cy="716.1" r="1.1"/>
<circle cx="880.40" cy="716.1" r="1.1"/>
<circle cx="929.20" cy="716.1" r="1.1"/>
</g>
<text x="266.1" y="329.3" font-size="17.0" textLength="65.5" lengthAdjust="spacingAndGlyphs" transform="rotate(-42.3 298.9 323.3)">PMN-342</text>
<text x="326.8" y="390.8" font-size="17.0" textLength="61.5" lengthAdjust="spacingAndGlyphs" transform="rotate(-42.0 357.5 384.8)">PTN-312</text>
<text x="354.4" y="424.3" font-size="17.0" textLength="71.5" lengthAdjust="spacingAndGlyphs" transform="rotate(-43.5 390.2 418.3)">PTN-25E2</text>
<text x="380.4" y="442.9" font-size="17.0" textLength="62.5" lengthAdjust="spacingAndGlyphs" transform="rotate(-44.0 411.6 436.9)">PTN-51F</text>
<text x="429.9" y="494.0" font-size="17.0" textLength="54.5" lengthAdjust="spacingAndGlyphs" transform="rotate(-42.5 457.2 488.0)">PBN-43</text>
<text x="454.6" y="516.8" font-size="17.0" textLength="62.5" lengthAdjust="spacingAndGlyphs" transform="rotate(-42.5 485.9 510.8)">PBN-41E</text>
<text x="496.0" y="555.6" font-size="17.0" textLength="54.0" lengthAdjust="spacingAndGlyphs" transform="rotate(-44.0 523.0 549.6)">PBN-36</text>
<text x="531.2" y="682.6" font-size="16.9" textLength="49.0" lengthAdjust="spacingAndGlyphs">0.1mW</text>
<text x="636.5" y="616.5" font-size="16.9" textLength="35.3" lengthAdjust="spacingAndGlyphs">1mW</text>
<text x="742.1" y="567.5" font-size="16.9" textLength="44.1" lengthAdjust="spacingAndGlyphs">10mW</text>
<text x="856.2" y="519.0" font-size="16.9" textLength="53.8" lengthAdjust="spacingAndGlyphs">100mW</text>
<text x="60.4" y="68.2" font-size="17.3" textLength="43.8" lengthAdjust="spacingAndGlyphs">1000V</text>
<text x="77.8" y="116.3" font-size="17.3" textLength="26.1" lengthAdjust="spacingAndGlyphs">500</text>
<text x="77.8" y="178.2" font-size="17.3" textLength="26.1" lengthAdjust="spacingAndGlyphs">200</text>
<text x="78.9" y="229.0" font-size="17.3" textLength="25.0" lengthAdjust="spacingAndGlyphs">100</text>
<text x="86.9" y="277.1" font-size="17.3" textLength="17.0" lengthAdjust="spacingAndGlyphs">50</text>
<text x="86.9" y="343.0" font-size="17.3" textLength="17.0" lengthAdjust="spacingAndGlyphs">20</text>
<text x="88.7" y="391.6" font-size="17.3" textLength="15.3" lengthAdjust="spacingAndGlyphs">10</text>
<text x="96.0" y="440.5" font-size="17.3" textLength="8.0" lengthAdjust="spacingAndGlyphs">5</text>
<text x="96.0" y="505.6" font-size="17.3" textLength="8.0" lengthAdjust="spacingAndGlyphs">2</text>
<text x="96.9" y="554.9" font-size="17.3" style="stroke-width:0">1</text>
<text x="83.8" y="605.5" font-size="17.3" textLength="20.1" lengthAdjust="spacingAndGlyphs">0.5</text>
<text x="83.8" y="669.2" font-size="17.3" textLength="20.1" lengthAdjust="spacingAndGlyphs">0.2</text>
<text x="84.0" y="713.5" font-size="17.3" textLength="18.2" lengthAdjust="spacingAndGlyphs">0.1</text>
<text x="95.5" y="735.2" font-size="17.3" textLength="32.5" lengthAdjust="spacingAndGlyphs">0.001</text>
<text x="145.0" y="735.2" font-size="17.3" textLength="33.8" lengthAdjust="spacingAndGlyphs">0.002</text>
<text x="209.2" y="735.2" font-size="17.3" textLength="33.2" lengthAdjust="spacingAndGlyphs">0.005</text>
<text x="262.5" y="735.2" font-size="17.3" textLength="25.0" lengthAdjust="spacingAndGlyphs">0.01</text>
<text x="312.5" y="735.2" font-size="17.3" textLength="25.0" lengthAdjust="spacingAndGlyphs">0.02</text>
<text x="376.9" y="735.2" font-size="17.3" textLength="26.4" lengthAdjust="spacingAndGlyphs">0.05</text>
<text x="430.7" y="735.2" font-size="17.3" textLength="16.5" lengthAdjust="spacingAndGlyphs">0.1</text>
<text x="479.2" y="735.2" font-size="17.3" textLength="19.1" lengthAdjust="spacingAndGlyphs">0.2</text>
<text x="543.9" y="735.2" font-size="17.3" textLength="18.8" lengthAdjust="spacingAndGlyphs">0.5</text>
<text x="598.4" y="735.2" font-size="17.3" style="stroke-width:0">1</text>
<text x="649.2" y="735.2" font-size="17.3" textLength="6.7" lengthAdjust="spacingAndGlyphs">2</text>
<text x="713.3" y="735.2" font-size="17.3" textLength="6.7" lengthAdjust="spacingAndGlyphs">5</text>
<text x="760.5" y="735.2" font-size="17.3" textLength="13.8" lengthAdjust="spacingAndGlyphs">10</text>
<text x="808.3" y="735.2" font-size="17.3" textLength="14.9" lengthAdjust="spacingAndGlyphs">20</text>
<text x="872.7" y="735.2" font-size="17.3" textLength="14.8" lengthAdjust="spacingAndGlyphs">50</text>
<text x="909.0" y="735.2" font-size="17.3" textLength="41.9" lengthAdjust="spacingAndGlyphs">100mA</text>
<text x="506.2" y="775.5" font-size="20.0" textLength="90.0" lengthAdjust="spacingAndGlyphs" style="stroke-width:0">电流(mA)</text>
<text x="23.0" y="420.8" font-size="20" textLength="72.0" lengthAdjust="spacingAndGlyphs" style="stroke-width:0" transform="rotate(-90 59.0 413.0)">电压(V)</text>
<text x="777.6" y="53.0" font-size="16.5" textLength="42.4" lengthAdjust="spacingAndGlyphs" style="stroke-width:0.1px">at 25</text>
<text x="820.6" y="53.6" font-size="17.5" textLength="17.4" lengthAdjust="spacingAndGlyphs" style="stroke-width:0">℃</text>
<text x="836.6" y="54.0" font-size="15.5" textLength="93.4" lengthAdjust="spacingAndGlyphs" style="stroke-width:0">，静止空气中</text>
</svg></body></html>
